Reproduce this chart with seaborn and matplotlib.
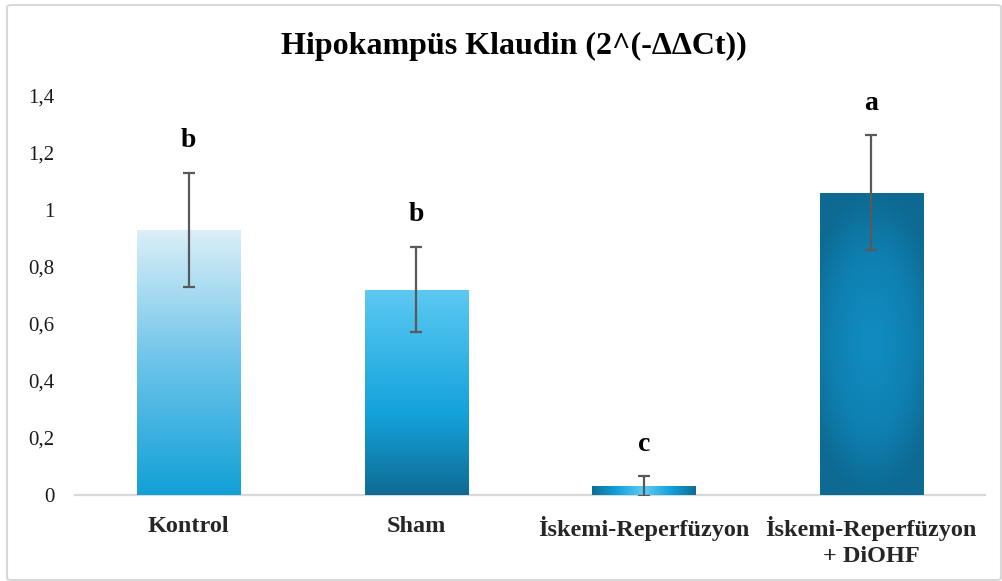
import numpy as np
import pandas as pd
import matplotlib
matplotlib.use("Agg")
import matplotlib.pyplot as plt
import seaborn as sns
from matplotlib.colors import LinearSegmentedColormap
from matplotlib.patches import FancyBboxPatch

# Relative Claudin expression in hippocampus, 2^(-ΔΔCt)
groups = ["Kontrol", "Sham", "İskemi-Reperfüzyon", "İskemi-Reperfüzyon\n+ DiOHF"]
means = [0.93, 0.72, 0.03, 1.06]
errors = [0.20, 0.15, 0.035, 0.20]
letters = ["b", "b", "c", "a"]
ytick_values = [0, 0.2, 0.4, 0.6, 0.8, 1.0, 1.2, 1.4]
ytick_labels = ["0", "0,2", "0,4", "0,6", "0,8", "1", "1,2", "1,4"]
title = "Hipokampüs Klaudin (2^(-ΔΔCt))"

sns.set_theme(style="white")
plt.rcParams["font.family"] = ["Liberation Serif", "DejaVu Serif"]

W, H = 1003, 581
fig = plt.figure(figsize=(W / 100, H / 100), dpi=100)
fig.patch.set_facecolor("white")
ax = fig.add_axes([75 / W, 1 - 495 / H, 910 / W, (495 - 95.5) / H])

df = pd.DataFrame({"group": groups, "value": means})
sns.barplot(data=df, x="group", y="value", ax=ax, width=0.453,
            color="#14A0D8", saturation=1, errorbar=None)


def cmap(stops):
    return LinearSegmentedColormap.from_list("g", stops, N=256)


# gradient fills, one per bar
vert_light = cmap([(0.0, "#12A0D7"), (0.5, "#6CC4E9"), (1.0, "#DCEFF8")])
vert_mid = cmap([(0.0, "#0E6B93"), (0.4, "#14A3DC"), (1.0, "#5DC9F2")])
horiz = cmap([(0.0, "#0E6D94"), (0.25, "#14A3DC"), (0.5, "#62CBF2"),
              (0.75, "#14A3DC"), (1.0, "#0E6D94")])
radial = cmap([(0.0, "#118DC3"), (0.6, "#0F7FB0"), (1.0, "#0D6A92")])

n = 256
t = np.linspace(0, 1, n)
grad_imgs = []
grad_imgs.append(vert_light(t)[:, None, :3])
grad_imgs.append(vert_mid(t)[:, None, :3])
grad_imgs.append(horiz(t)[None, :, :3])
gx, gy = np.meshgrid(np.linspace(-1, 1, 120), np.linspace(-1, 1, 300))
r = np.clip(np.sqrt(0.55 * gx ** 2 + gy ** 2) / np.sqrt(1.55) * 1.25, 0, 1)
grad_imgs.append(radial(r)[:, :, :3])

centers = []
for patch, img in zip(ax.patches, grad_imgs):
    x0, w, h = patch.get_x(), patch.get_width(), patch.get_height()
    centers.append(x0 + w / 2)
    im = ax.imshow(img, extent=[x0, x0 + w, 0, h], origin="lower",
                   aspect="auto", interpolation="bilinear", zorder=3)
    im.set_clip_path(patch)
    patch.set_edgecolor("none")

ax.errorbar(centers, means, yerr=errors, fmt="none", ecolor="#595959",
            elinewidth=1.6, capsize=4, capthick=1.6, zorder=5)

for x, m, e, lab in zip(centers, means, errors, letters):
    ax.annotate(lab, xy=(x, m + e), xytext=(0, 23), textcoords="offset points",
                ha="center", va="center", fontsize=20, fontweight="bold",
                color="black")

ax.set_xlim(-0.5, 3.5)
ax.set_ylim(0, 1.4)
ax.set_yticks(ytick_values, ytick_labels)
ax.set_xlabel("")
ax.set_ylabel("")
ax.tick_params(axis="y", length=0, pad=15, labelsize=15, labelcolor="#1a1a1a")
ax.tick_params(axis="x", length=0, pad=15, labelsize=17.5)
for lbl in ax.get_xticklabels():
    lbl.set_fontweight("bold")
    lbl.set_linespacing(1.35)
    lbl.set_multialignment("center")
for side in ["left", "top", "right"]:
    ax.spines[side].set_visible(False)
ax.spines["bottom"].set_color("#D9D9D9")
ax.spines["bottom"].set_linewidth(1.6)
ax.spines["bottom"].set_zorder(2)
ax.set_facecolor("white")

fig.text(514 / W, 1 - 46 / H, title, ha="center", va="center",
         fontsize=23, fontweight="bold", color="black")

border = FancyBboxPatch((7 / W, 1 - 580 / H), 994 / W, 575 / H,
                        boxstyle="round,pad=0,rounding_size=0.004",
                        transform=fig.transFigure, fill=False,
                        edgecolor="#D9D9D9", linewidth=1.5)
fig.patches.append(border)

fig.savefig("out.png", dpi=100, facecolor="white")
